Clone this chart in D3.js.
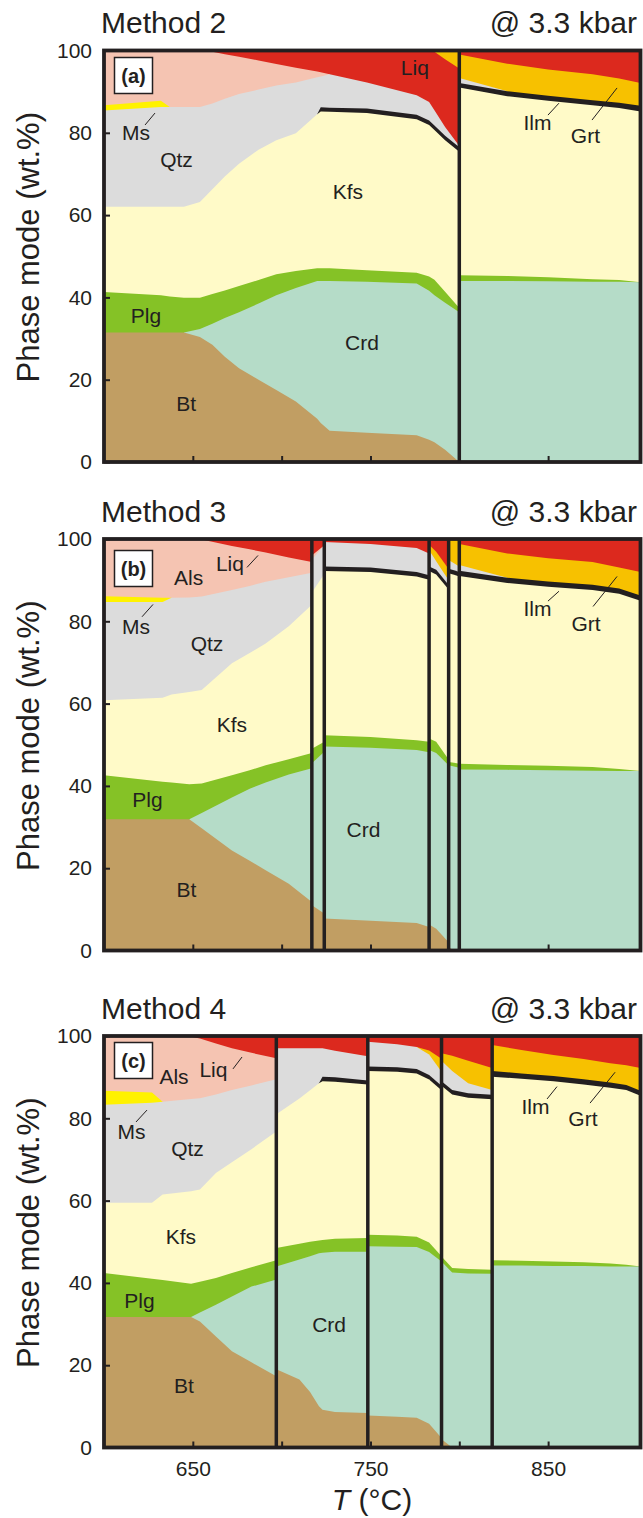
<!DOCTYPE html>
<html>
<head>
<meta charset="utf-8">
<script src="https://cdn.jsdelivr.net/npm/d3@7"></script>
<style>
  body { margin: 0; background: #fff; }
  svg text { font-family: "Liberation Sans", Arial, Helvetica, sans-serif; fill: #231f20; }
</style>
</head>
<body>
<div id="chart"></div>
<script>
// phase order from the bottom of each stack
const KEYS = ['Bt', 'Crd', 'Plg', 'Kfs', 'Ilm', 'Qtz', 'Ms', 'Als', 'Grt', 'Liq'];
const COLORS = {
  Bt: '#c19e63', Crd: '#b5dcc8', Plg: '#85c226', Kfs: '#fffac8', Ilm: '#231f20',
  Qtz: '#dcdcdc', Ms: '#fff200', Als: '#f5c4b2', Grt: '#f7c100', Liq: '#dc291e'
};
const Y_TICKS = [0, 20, 40, 60, 80, 100];
const X_TICKS = [650, 700, 750, 800, 850];

// ---- Method 2 (a): a repeated T marks a melt-loss step
const T_A   = [600, 632, 637, 645, 654, 661, 668, 676, 687, 697, 708, 720, 722, 727, 748, 776, 783, 786, 792, 800,  800, 827, 850, 875, 890, 902];
const BT_A  = [31.5, 31.5, 31.5, 31.5, 30.4, 28.5, 25.6, 22.8, 20.0, 17.5, 14.7, 10.5, 9.5, 7.6, 7.1, 6.5, 5.4, 4.8, 3.0, 0,  0, 0, 0, 0, 0, 0];
const CRD_A = [0, 0, 0, 0, 1.9, 5.1, 9.4, 13.6, 18.5, 23.0, 27.6, 33.5, 34.5, 36.4, 36.7, 36.9, 36.2, 35.7, 35.7, 36.4,  44.0, 44.0, 43.9, 43.8, 43.8, 43.7];
const PLG_A = [9.8, 9.0, 8.7, 8.4, 7.6, 7.2, 6.7, 6.4, 5.7, 5.1, 4.1, 3.1, 3.1, 3.1, 2.8, 2.6, 3.5, 3.8, 2.7, 1.0,  1.4, 1.2, 1.0, 0.6, 0.4, 0];
const KFS_A = [20.7, 21.5, 21.8, 22.1, 23.3, 25.5, 27.7, 29.7, 31.7, 32.6, 33.5, 37.4, 38.1, 38.0, 38.2, 37.3, 36.8, 36.4, 36.8, 38.0,  45.6, 43.7, 42.9, 42.3, 41.8, 41.5];
const ILM_A = [0, 0, 0, 0, 0, 0, 0, 0, 0, 0, 0, 0, 1.0, 1.0, 1.1, 1.1, 1.1, 1.1, 1.1, 1.1,  1.1, 1.2, 1.2, 1.2, 1.3, 1.4];
const QTZ_A = [23.4, 24.3, 24.3, 24.3, 23.1, 20.8, 18.9, 16.9, 14.6, 13.3, 12.3, 9.0, 7.5, 8.1, 6.3, 4.7, 4.5, 3.7, 2.1, 0.3,  1.2, 0, 0, 0, 0, 0];
const MS_A  = [1.3, 1.5, 0, 0, 0, 0, 0, 0, 0, 0, 0, 0, 0, 0, 0, 0, 0, 0, 0, 0,  0, 0, 0, 0, 0, 0];
const ALS_A = [13.3, 12.2, 13.7, 13.7, 13.7, 12.6, 10.8, 9.1, 7.1, 5.2, 3.6, 1.4, 1.0, 0, 0, 0, 0, 0, 0, 0,  0, 0, 0, 0, 0, 0];
const GRT_A = [0, 0, 0, 0, 0, 0, 0, 0, 0, 0, 0, 0, 0, 0, 0, 0, 0, 0.3, 2.1, 4.4,  5.7, 6.7, 6.4, 6.3, 5.9, 5.5];
const LIQ_A = [0, 0, 0, 0, 0, 0.3, 0.9, 1.5, 2.4, 3.3, 4.2, 5.1, 5.3, 5.8, 7.8, 10.9, 12.5, 14.2, 16.5, 18.8,  1.0, 3.2, 4.6, 5.8, 6.8, 7.9];

// ---- Method 3 (b)
const T_B   = [600, 633, 638, 648, 655, 672, 682, 691, 704, 717,  717, 724,  724, 750, 776, 783,  783, 787, 794,  794, 797, 800,  800, 827, 850, 875, 890, 902];
const BT_B  = [31.9, 31.9, 31.9, 31.9, 29.7, 24.3, 21.8, 19.5, 16.2, 11.8,  11.0, 9.0,  7.8, 7.2, 6.7, 5.7,  6.3, 5.3, 2.0,  0.8, 0, 0,  0, 0, 0, 0, 0, 0];
const CRD_B = [0, 0, 0, 0, 3.7, 12.9, 17.5, 21.3, 26.6, 32.5,  34.5, 39.3,  41.8, 42.1, 42.0, 42.5,  42.4, 42.7, 43.0,  44.2, 44.7, 44.4,  44.0, 43.9, 43.8, 43.7, 43.6, 43.6];
const PLG_B = [10.7, 9.1, 8.9, 8.5, 7.2, 5.4, 4.5, 4.2, 3.7, 3.7,  3.5, 2.4,  2.7, 2.6, 2.4, 2.5,  2.8, 2.7, 1.4,  0.8, 0.9, 1.0,  1.4, 1.2, 1.1, 0.9, 0.5, 0];
const KFS_B = [18.2, 20.4, 21.4, 22.4, 22.7, 27.2, 28.5, 29.6, 32.3, 36.0,  38.0, 40.8,  39.9, 40.1, 39.8, 39.4,  40.7, 40.7, 41.3,  45.9, 45.7, 45.5,  45.6, 44.2, 43.5, 43.0, 42.6, 41.4];
const ILM_B = [0, 0, 0, 0, 0, 0, 0, 0, 0, 0,  0, 0,  1.1, 1.1, 1.1, 1.1,  1.1, 1.1, 1.1,  1.1, 1.1, 1.1,  1.3, 1.3, 1.3, 1.3, 1.3, 1.3];
const QTZ_B = [23.9, 23.3, 23.5, 23.0, 22.7, 17.8, 16.3, 15.0, 11.9, 7.8,  8.0, 7.0,  6.0, 5.7, 5.8, 5.3,  4.0, 2.1, 1.2,  2.1, 1.7, 1.3,  1.4, 0, 0, 0, 0, 0];
const MS_B  = [1.4, 1.0, 0, 0, 0, 0, 0, 0, 0, 0,  0, 0,  0, 0, 0, 0,  0, 0, 0,  0, 0, 0,  0, 0, 0, 0, 0, 0];
const ALS_B = [13.9, 14.3, 14.3, 14.2, 13.9, 10.7, 8.9, 7.1, 4.8, 2.6,  1.0, 0,  0, 0, 0, 0,  0, 0, 0,  0, 0, 0,  0, 0, 0, 0, 0, 0];
const GRT_B = [0, 0, 0, 0, 0, 0, 0, 0, 0, 0,  0, 0,  0, 0, 0, 0,  1.3, 2.3, 2.7,  5.1, 5.9, 6.7,  5.1, 5.9, 5.6, 5.5, 5.1, 5.7];
const LIQ_B = [0, 0, 0, 0, 0.1, 1.7, 2.5, 3.3, 4.5, 5.6,  4.0, 1.5,  0.7, 1.2, 2.2, 3.5,  1.4, 3.1, 7.3,  0, 0, 0,  1.2, 3.5, 4.7, 5.6, 6.9, 8.0];

// ---- Method 4 (c)
const T_C   = [600, 627, 633, 649, 654, 663, 672, 683, 697,  697, 710, 716, 721, 723, 730, 748.5,  748.5, 765, 776, 783, 790,  790, 796, 805, 818.5,  818.5, 835, 853, 870, 885, 894, 902];
const BT_C  = [31.7, 31.7, 31.7, 31.7, 30.6, 27.0, 23.4, 20.7, 17.3,  19.0, 16.5, 13.5, 10.0, 9.2, 8.6, 8.4,  7.8, 7.5, 7.2, 5.8, 2.3,  2.0, 0, 0, 0,  0, 0, 0, 0, 0, 0, 0];
const CRD_C = [0, 0, 0, 0, 2.2, 7.7, 13.3, 18.4, 23.5,  25.0, 29.2, 33.0, 37.2, 38.1, 39.0, 39.2,  41.1, 41.3, 41.5, 41.7, 42.9,  43.2, 42.5, 42.3, 42.2,  44.2, 44.2, 44.1, 44.1, 44.0, 44.0, 44.0];
const PLG_C = [10.7, 9.3, 9.0, 8.1, 7.5, 6.5, 5.7, 4.7, 4.7,  4.5, 3.8, 3.5, 3.1, 3.1, 3.1, 3.3,  2.8, 2.7, 2.5, 2.3, 1.3,  1.2, 1.1, 1.1, 1.0,  1.3, 1.2, 1.1, 0.9, 0.7, 0.4, 0];
const KFS_C = [17.1, 18.5, 20.8, 22.5, 22.4, 25.5, 26.9, 28.7, 31.3,  32.5, 35.3, 36.8, 38.2, 38.6, 38.2, 37.3,  39.8, 39.8, 39.7, 39.6, 40.3,  41.5, 42.2, 41.6, 41.4,  44.6, 44.2, 43.8, 43.2, 42.7, 42.5, 41.5];
const ILM_C = [0, 0, 0, 0, 0, 0, 0, 0, 0,  0, 0, 0, 0, 1.1, 1.1, 1.0,  1.1, 1.1, 1.1, 1.1, 1.1,  1.1, 1.1, 1.1, 1.1,  1.4, 1.3, 1.3, 1.3, 1.3, 1.2, 1.2];
const QTZ_C = [23.8, 24.3, 22.5, 22.4, 22.2, 19.1, 17.6, 15.5, 12.7,  16.0, 12.2, 10.2, 8.5, 6.9, 6.4, 5.9,  6.0, 5.6, 5.3, 5.0, 3.4,  5.0, 4.6, 2.4, 1.2,  0, 0, 0, 0, 0, 0, 0];
const MS_C  = [3.4, 2.5, 0, 0, 0, 0, 0, 0, 0,  0, 0, 0, 0, 0, 0, 0,  0, 0, 0, 0, 0,  0, 0, 0, 0,  0, 0, 0, 0, 0, 0, 0];
const ALS_C = [13.3, 13.7, 16.0, 15.1, 14.5, 12.4, 10.1, 7.9, 5.1,  0, 0, 0, 0, 0, 0, 0,  0, 0, 0, 0, 0,  0, 0, 0, 0,  0, 0, 0, 0, 0, 0, 0];
const GRT_C = [0, 0, 0, 0, 0, 0, 0, 0, 0,  0, 0, 0, 0, 0, 0, 0,  0, 0, 0, 1.0, 3.2,  1.8, 3.7, 5.5, 5.3,  6.3, 5.7, 5.1, 4.9, 4.7, 4.8, 5.5];
const LIQ_C = [0, 0, 0, 0.2, 0.6, 1.8, 3.0, 4.1, 5.4,  3.0, 3.0, 3.0, 3.0, 3.0, 3.6, 4.9,  1.4, 2.0, 2.7, 3.5, 5.5,  4.2, 4.8, 6.0, 7.8,  2.2, 3.4, 4.6, 5.6, 6.6, 7.1, 7.8];

// phase names inside the panels: [text, T, wt.%] (text baseline)
const LABELS_A = [['Ms', 618, 78.2], ['Qtz', 640.8, 71.7], ['Liq', 775, 94.0], ['Kfs', 737.3, 63.9], ['Ilm', 844, 80.7], ['Grt', 871, 77.5], ['Plg', 623.6, 33.9], ['Bt', 646.2, 12.3], ['Crd', 745.2, 27.1]];
const LABELS_B = [['Liq', 670.9, 92.2], ['Als', 647.6, 88.9], ['Ms', 618, 76.8], ['Qtz', 658, 72.7], ['Kfs', 672, 53.2], ['Plg', 624.5, 34.9], ['Bt', 646.4, 13.1], ['Crd', 746.1, 27.7], ['Ilm', 844, 81.2], ['Grt', 871.3, 77.6]];
const LABELS_C = [['Als', 639.4, 88.3], ['Liq', 661.6, 90.0], ['Ms', 615.5, 74.9], ['Qtz', 647, 70.9], ['Kfs', 643.3, 49.4], ['Plg', 620, 34.0], ['Bt', 645, 13.3], ['Crd', 726.7, 28.0], ['Ilm', 842.9, 81.0], ['Grt', 869.6, 78.2]];
// leader lines: [T1, v1, T2, v2]
const LEADERS_A = [[623.1, 81.9, 628.7, 84.8], [849.9, 84.3, 856.1, 87.2], [874.7, 83.1, 888.8, 90.9]];
const LEADERS_B = [[680.5, 93.1, 686.7, 96.0], [621.4, 81.1, 627.6, 84.1], [849.9, 84.9, 856.1, 87.3], [875.3, 83.6, 888.8, 90.9]];
const LEADERS_C = [[672.6, 92.0, 677.7, 94.9], [618.0, 79.1, 624.2, 82.0], [849.4, 84.7, 855.0, 87.7], [873.6, 83.7, 887.7, 91.2]];

const W = 643, H = 1518;
const X0 = 104, X1 = 640.5, PH = 411.5;
const INK = '#231f20';

const panels = [
  { title: 'Method 2', tag: '(a)', top: 50.5, tagDy: 7, grtTop: [0], T: T_A,
    series: { Bt: BT_A, Crd: CRD_A, Plg: PLG_A, Kfs: KFS_A, Ilm: ILM_A, Qtz: QTZ_A, Ms: MS_A, Als: ALS_A, Grt: GRT_A, Liq: LIQ_A },
    labels: LABELS_A, leaders: LEADERS_A },
  { title: 'Method 3', tag: '(b)', top: 539, tagDy: 11.5, grtTop: [], T: T_B,
    series: { Bt: BT_B, Crd: CRD_B, Plg: PLG_B, Kfs: KFS_B, Ilm: ILM_B, Qtz: QTZ_B, Ms: MS_B, Als: ALS_B, Grt: GRT_B, Liq: LIQ_B },
    labels: LABELS_B, leaders: LEADERS_B },
  { title: 'Method 4', tag: '(c)', top: 1036, tagDy: 6.5, grtTop: [], T: T_C,
    series: { Bt: BT_C, Crd: CRD_C, Plg: PLG_C, Kfs: KFS_C, Ilm: ILM_C, Qtz: QTZ_C, Ms: MS_C, Als: ALS_C, Grt: GRT_C, Liq: LIQ_C },
    labels: LABELS_C, leaders: LEADERS_C }
];

const svg = d3.select('#chart').append('svg')
  .attr('width', W).attr('height', H)
  .attr('viewBox', `0 0 ${W} ${H}`);

const x = d3.scaleLinear().domain([600, 902]).range([X0, X1]);

panels.forEach((p, pi) => {
  const isBottom = pi === panels.length - 1;
  const y = d3.scaleLinear().domain([0, 100]).range([p.top + PH, p.top]);
  const g = svg.append('g');

  // rows -> segments (split where T repeats)
  const rows = p.T.map((t, i) => {
    const r = { T: t };
    KEYS.forEach(k => { r[k] = p.series[k][i]; });
    return r;
  });
  const segs = [];
  rows.forEach((r, i) => {
    if (i === 0 || r.T === rows[i - 1].T) segs.push([]);
    segs[segs.length - 1].push(r);
  });

  // paint cumulative tops from the uppermost phase down, so no seams show
  segs.forEach((seg, si) => {
    const keys = p.grtTop.includes(si) ? KEYS.filter(k => k !== 'Grt').concat('Grt') : KEYS;
    const layers = d3.stack().keys(keys)(seg);
    layers.slice().reverse().forEach(layer => {
      const th = layer.map(d => d[1] - d[0]);
      const on = th.map((v, i) => v > 0 || th[i - 1] > 0 || th[i + 1] > 0);
      if (!on.some(Boolean)) return;
      const area = d3.area()
        .defined((d, i) => on[i])
        .x(d => x(d.data.T))
        .y0(y(0))
        .y1(d => y(d[1]));
      g.append('path').datum(layer).attr('d', area).attr('fill', COLORS[layer.key]);
    });
  });

  // step lines
  const breaks = p.T.filter((t, i) => i > 0 && t === p.T[i - 1]);
  g.selectAll('.step').data(breaks).enter().append('line')
    .attr('x1', d => x(d)).attr('x2', d => x(d))
    .attr('y1', y(0)).attr('y2', y(100))
    .attr('stroke', INK).attr('stroke-width', 3.5);

  // axes (inward ticks)
  const yAxis = d3.axisLeft(y).tickValues(Y_TICKS).tickSizeInner(-6).tickSizeOuter(0).tickPadding(12);
  g.append('g').attr('transform', `translate(${X0},0)`).call(yAxis)
    .call(a => a.select('.domain').remove())
    .attr('font-size', 21).attr('font-family', null).attr('color', INK)
    .call(a => a.selectAll('line').attr('stroke-width', 2));

  const xAxis = d3.axisBottom(x).tickValues(X_TICKS).tickSizeInner(-6).tickSizeOuter(0).tickPadding(14)
    .tickFormat(d => (isBottom && d % 100 === 50) ? d : '');
  g.append('g').attr('transform', `translate(0,${y(0)})`).call(xAxis)
    .call(a => a.select('.domain').remove())
    .attr('font-size', 21).attr('font-family', null).attr('color', INK)
    .call(a => a.selectAll('line').attr('stroke-width', 2));

  // frame
  g.append('rect')
    .attr('x', X0).attr('y', p.top).attr('width', X1 - X0).attr('height', PH)
    .attr('fill', 'none').attr('stroke', INK).attr('stroke-width', 3.8);

  // phase names + leaders
  g.selectAll('.lab').data(p.labels).enter().append('text')
    .attr('x', d => x(d[1])).attr('y', d => y(d[2]))
    .attr('text-anchor', 'middle').style('font-size', '21px')
    .text(d => d[0]);
  g.selectAll('.lead').data(p.leaders).enter().append('line')
    .attr('x1', d => x(d[0])).attr('y1', d => y(d[1]))
    .attr('x2', d => x(d[2])).attr('y2', d => y(d[3]))
    .attr('stroke', INK).attr('stroke-width', 1);

  // panel tag box
  g.append('rect')
    .attr('x', X0 + 10.5).attr('y', p.top + p.tagDy).attr('width', 38).attr('height', 36)
    .attr('fill', '#fff').attr('stroke', INK).attr('stroke-width', 1.5);
  g.append('text')
    .attr('x', X0 + 29.5).attr('y', p.top + p.tagDy + 25)
    .attr('text-anchor', 'middle').style('font-size', '20px').style('font-weight', 'bold')
    .text(p.tag);

  // titles
  g.append('text').attr('x', 101).attr('y', p.top - 17.5)
    .style('font-size', '30px').text(p.title);
  g.append('text').attr('x', 637).attr('y', p.top - 17.5)
    .attr('text-anchor', 'end').style('font-size', '30px').text('@ 3.3 kbar');

  // y title
  g.append('text')
    .attr('transform', `translate(39,${p.top + PH / 2 - 9}) rotate(-90)`)
    .attr('text-anchor', 'middle').style('font-size', '31px')
    .text('Phase mode (wt.%)');
});

// x title
const xt = svg.append('text').attr('x', 372).attr('y', 1510)
  .attr('text-anchor', 'middle').style('font-size', '30px');
xt.append('tspan').style('font-style', 'italic').text('T');
xt.append('tspan').text(' (°C)');
</script>
</body>
</html>
